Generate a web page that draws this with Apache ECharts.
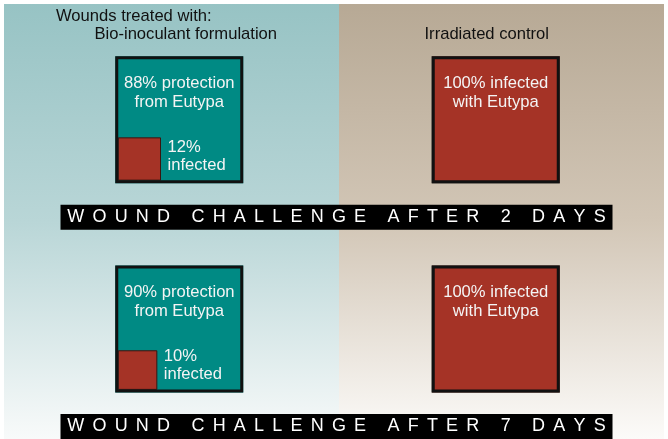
<!DOCTYPE html>
<html>
<head>
<meta charset="utf-8">
<script src="https://cdn.jsdelivr.net/npm/echarts@6/dist/echarts.min.js"></script>
<style>
  html, body { margin: 0; padding: 0; background: #fff; }
  #chart { width: 668px; height: 439px; }
</style>
</head>
<body>
<div id="chart"></div>
<script>
// treatments (columns) and challenge delays (rows)
const groups = ['Bio-inoculant formulation', 'Irradiated control']
const challengeDays = [2, 7]
// % of wounds infected with Eutypa, one value per challenge delay
const bioInfected = [12, 10]
const controlInfected = [100, 100]

const FONT = '"Liberation Sans", Arial, Helvetica, sans-serif'
const TEAL = '#008a84'
const RED = '#a53326'
const BOX_FONT = '16.6px ' + FONT

// cells: [groupIndex, dayIndex, infected %]
const cells = []
challengeDays.forEach((d, i) => {
  cells.push([0, i, bioInfected[i]])
  cells.push([1, i, controlInfected[i]])
})

// measure text so banner letters can be spaced out
const measureCtx = document.createElement('canvas').getContext('2d')
function bannerLetters(str, cx, cy) {
  const size = 18
  const gap = 8.2
  measureCtx.font = size + 'px ' + FONT
  const widths = [...str].map(ch => measureCtx.measureText(ch).width)
  const total = widths.reduce((a, b) => a + b, 0) + gap * (widths.length - 1)
  let x = cx - total / 2
  const out = []
  ;[...str].forEach((ch, i) => {
    if (ch !== ' ') {
      out.push({
        type: 'text',
        style: {
          x: x, y: cy, text: ch, fill: '#fff',
          font: size + 'px ' + FONT, textVerticalAlign: 'middle'
        }
      })
    }
    x += widths[i] + gap
  })
  return out
}

function renderCell(params, api) {
  const c = api.coord([api.value(0), api.value(1)])
  const pct = api.value(2)
  const w = 128, h = 127, b = 3
  const left = c[0] - w / 2, top = c[1] - h / 2
  const inner = w - 2 * b
  const children = [
    { type: 'rect', shape: { x: left, y: top, width: w, height: h }, style: { fill: TEAL } }
  ]
  if (pct >= 100) {
    children.push({ type: 'rect', shape: { x: left, y: top, width: w, height: h }, style: { fill: RED } })
    children.push({
      type: 'text',
      style: {
        x: c[0], y: top + 18, text: pct + '% infected\nwith Eutypa',
        fill: '#f4f4f4', font: BOX_FONT, textAlign: 'center', lineHeight: 19
      }
    })
  } else {
    const s = Math.sqrt(pct / 100) * inner
    children.push({
      type: 'rect',
      shape: { x: left + b, y: top + h - b - s, width: s, height: s },
      style: { fill: RED, stroke: '#3a1510', lineWidth: 1 }
    })
    children.push({
      type: 'text',
      style: {
        x: c[0], y: top + 18, text: (100 - pct) + '% protection\nfrom Eutypa',
        fill: '#f4f4f4', font: BOX_FONT, textAlign: 'center', lineHeight: 19
      }
    })
    children.push({
      type: 'text',
      style: {
        x: left + b + s + 7, y: top + h - 45, text: pct + '%\ninfected',
        fill: '#f4f4f4', font: BOX_FONT, textAlign: 'left', lineHeight: 18
      }
    })
  }
  children.push({
    type: 'rect',
    shape: { x: left + b / 2, y: top + b / 2, width: w - b, height: h - b },
    style: { fill: 'none', stroke: '#111', lineWidth: b }
  })
  return { type: 'group', children: children }
}

function renderBanner(params, api) {
  const a = api.coord([0, api.value(0)])
  const bb = api.coord([1, api.value(0)])
  const cx = (a[0] + bb[0]) / 2 - 1
  const y = a[1] + 85
  const label = 'WOUND CHALLENGE AFTER ' + challengeDays[api.value(0)] + ' DAYS'
  return {
    type: 'group',
    children: [
      { type: 'rect', shape: { x: cx - 276, y: y, width: 552, height: 25 }, style: { fill: '#000' } }
    ].concat(bannerLetters(label, cx, y + 12.5))
  }
}

const chart = echarts.init(document.getElementById('chart'), null, { renderer: 'canvas' })
chart.setOption({
  animation: false,
  graphic: [
    {
      type: 'rect', z: -10, silent: true,
      shape: { x: 4, y: 4, width: 335, height: 435 },
      style: {
        fill: new echarts.graphic.LinearGradient(0, 0, 0, 1, [
          { offset: 0, color: '#97c3c4' },
          { offset: 0.5, color: '#b9d6d7' },
          { offset: 1, color: '#f8fafa' }
        ])
      }
    },
    {
      type: 'rect', z: -10, silent: true,
      shape: { x: 339, y: 4, width: 325, height: 435 },
      style: {
        fill: new echarts.graphic.LinearGradient(0, 0, 0, 1, [
          { offset: 0, color: '#b7a995' },
          { offset: 0.5, color: '#d2c6b6' },
          { offset: 1, color: '#fcfbf9' }
        ])
      }
    }
  ],
  title: {
    text: 'Wounds treated with:',
    left: 51, top: 3,
    textStyle: { fontFamily: FONT, fontSize: 16.6, fontWeight: 'normal', color: '#111' }
  },
  grid: { left: 21, top: 15, width: 633, height: 418.5 },
  xAxis: {
    type: 'category',
    position: 'top',
    data: [
      { value: groups[0], textStyle: { padding: [0, 0, 0, 13] } },
      { value: groups[1], textStyle: { padding: [0, 18, 0, 0] } }
    ],
    axisLine: { show: false },
    axisTick: { show: false },
    splitLine: { show: false },
    axisLabel: { inside: true, margin: 11, fontFamily: FONT, fontSize: 16.6, color: '#111' }
  },
  yAxis: {
    type: 'category',
    inverse: true,
    data: challengeDays.map(d => d + ' days'),
    show: false
  },
  series: [
    { type: 'custom', renderItem: renderCell, data: cells, silent: true },
    { type: 'custom', renderItem: renderBanner, data: challengeDays.map((d, i) => [i]), silent: true,
      encode: { y: 0 } }
  ]
})
</script>
</body>
</html>
